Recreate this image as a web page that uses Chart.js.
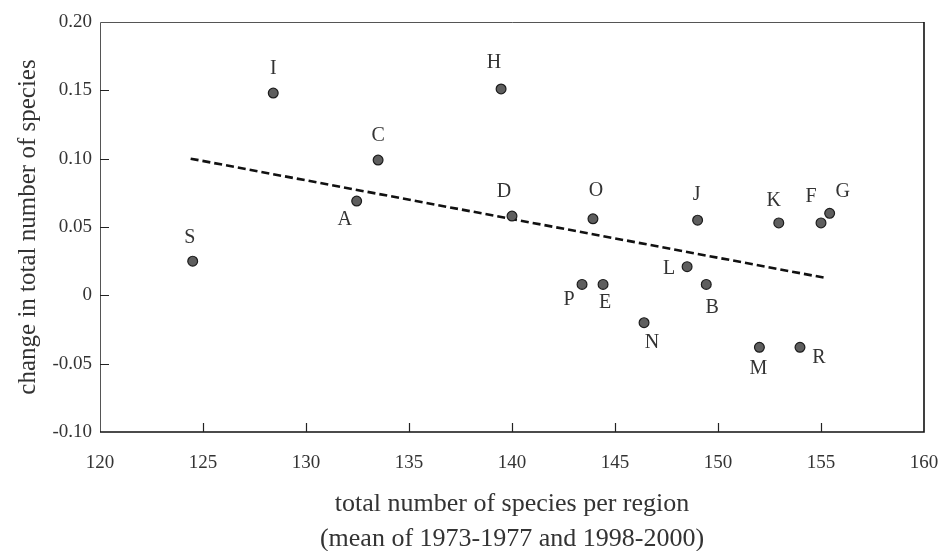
<!DOCTYPE html>
<html>
<head>
<meta charset="utf-8">
<script src="https://cdn.jsdelivr.net/npm/chart.js@4/dist/chart.umd.min.js"></script>
<style>
  html, body { margin: 0; padding: 0; background: #fff; }
  canvas { display: block; }
</style>
</head>
<body>
<canvas id="c" width="942" height="551"></canvas>
<script>
// Regions and their values
const regionNames = ['A','B','C','D','E','F','G','H','I','J','K','L','M','N','O','P','R','S'];
const totalSpecies = [132.46, 149.43, 133.50, 140.00, 144.42, 155.00, 155.42, 139.47, 128.41,
                      149.01, 152.95, 148.50, 152.01, 146.41, 143.93, 143.40, 153.98, 124.50];
const speciesChange = [0.069, 0.008, 0.099, 0.058, 0.008, 0.053, 0.060, 0.151, 0.148,
                       0.055, 0.053, 0.021, -0.038, -0.020, 0.056, 0.008, -0.038, 0.025];

// Regression line end points
const trendX = [124.4, 155.3];
const trendY = [0.100, 0.0125];

// Axis ticks
const xTickValues = [120, 125, 130, 135, 140, 145, 150, 155, 160];
const xTickLabels = ['120', '125', '130', '135', '140', '145', '150', '155', '160'];
const yTickValues = [-0.10, -0.05, 0, 0.05, 0.10, 0.15, 0.20];
const yTickLabels = ['-0.10', '-0.05', '0', '0.05', '0.10', '0.15', '0.20'];

// Where each region letter sits relative to its marker (px)
const labelOffsets = {
  A: [-12, 19], B: [6, 23], C: [0, -24], D: [-8, -24], E: [2, 18], F: [-10, -26],
  G: [13, -22], H: [-7, -26], I: [0, -24], J: [-1, -25], K: [-5, -22], L: [-18, 2],
  M: [-1, 21], N: [8, 20], O: [3, -28], P: [-13, 15], R: [19, 10], S: [-3, -23]
};

const SERIF = '"Liberation Serif", "DejaVu Serif", serif';
const TEXT = '#333';

const points = totalSpecies.map((x, i) => ({ x, y: speciesChange[i] }));
const trend = trendX.map((x, i) => ({ x, y: trendY[i] }));

// Region letters next to the markers
const pointLabels = {
  id: 'pointLabels',
  afterDatasetsDraw(chart) {
    const ctx = chart.ctx;
    const meta = chart.getDatasetMeta(0);
    ctx.save();
    ctx.font = '20px ' + SERIF;
    ctx.fillStyle = TEXT;
    ctx.textAlign = 'center';
    ctx.textBaseline = 'middle';
    meta.data.forEach((el, i) => {
      const name = regionNames[i];
      const off = labelOffsets[name] || [0, -22];
      ctx.fillText(name, el.x + off[0], el.y + off[1]);
    });
    ctx.restore();
  }
};

// Plot frame with inward tick marks
const frame = {
  id: 'frame',
  afterDraw(chart) {
    const { ctx, chartArea: a, scales } = chart;
    ctx.save();
    // top and left edges
    ctx.strokeStyle = '#555';
    ctx.lineWidth = 1;
    ctx.beginPath();
    ctx.moveTo(a.left + 0.5, a.bottom);
    ctx.lineTo(a.left + 0.5, a.top + 0.5);
    ctx.lineTo(a.right, a.top + 0.5);
    ctx.stroke();
    // right and bottom edges
    ctx.strokeStyle = '#111';
    ctx.lineWidth = 1.6;
    ctx.beginPath();
    ctx.moveTo(a.right, a.top);
    ctx.lineTo(a.right, a.bottom);
    ctx.lineTo(a.left, a.bottom);
    ctx.stroke();
    // tick marks
    ctx.strokeStyle = '#222';
    ctx.lineWidth = 1.2;
    ctx.beginPath();
    xTickValues.slice(1, -1).forEach(v => {
      const px = Math.round(scales.x.getPixelForValue(v)) + 0.5;
      ctx.moveTo(px, a.bottom);
      ctx.lineTo(px, a.bottom - 9);
    });
    yTickValues.slice(1, -1).forEach(v => {
      const py = Math.round(scales.y.getPixelForValue(v)) + 0.5;
      ctx.moveTo(a.left, py);
      ctx.lineTo(a.left + 9, py);
    });
    ctx.stroke();
    ctx.restore();
  }
};

new Chart(document.getElementById('c'), {
  type: 'scatter',
  data: {
    datasets: [
      {
        label: 'regions',
        data: points,
        pointRadius: 4.9,
        pointHoverRadius: 4.9,
        pointBackgroundColor: '#5e5e5e',
        pointBorderColor: '#1c1c1c',
        pointBorderWidth: 1.2,
        order: 0
      },
      {
        label: 'trend',
        type: 'line',
        data: trend,
        showLine: true,
        borderColor: '#111',
        borderWidth: 2.6,
        borderDash: [8, 4],
        pointRadius: 0,
        fill: false,
        order: 1
      }
    ]
  },
  options: {
    responsive: false,
    animation: false,
    events: [],
    layout: { padding: { top: 22, right: 18, bottom: 0, left: 0 } },
    plugins: {
      legend: { display: false },
      tooltip: { enabled: false }
    },
    scales: {
      x: {
        type: 'linear',
        min: 120,
        max: 160,
        afterBuildTicks: s => { s.ticks = xTickValues.map(v => ({ value: v })); },
        afterFit: s => { s.height = 119; s.paddingLeft = 0; s.paddingRight = 0; },
        grid: { display: false, drawTicks: false },
        border: { display: false },
        ticks: {
          padding: 20,
          color: TEXT,
          font: { family: SERIF, size: 19 },
          maxRotation: 0,
          callback: (v) => xTickLabels[xTickValues.indexOf(v)]
        },
        title: {
          display: true,
          text: ['total number of species per region', '(mean of 1973-1977 and 1998-2000)'],
          color: TEXT,
          font: { family: SERIF, size: 26, lineHeight: 1.35 },
          padding: { top: 0, bottom: -6 }
        }
      },
      y: {
        type: 'linear',
        min: -0.10,
        max: 0.20,
        afterBuildTicks: s => { s.ticks = yTickValues.map(v => ({ value: v })); },
        afterFit: s => { s.width = 100; s.paddingTop = 0; s.paddingBottom = 0; },
        grid: { display: false, drawTicks: false },
        border: { display: false },
        ticks: {
          padding: 8,
          color: TEXT,
          font: { family: SERIF, size: 19 },
          callback: (v) => {
            const i = yTickValues.findIndex(t => Math.abs(t - v) < 1e-9);
            return i >= 0 ? yTickLabels[i] : '';
          }
        },
        title: {
          display: true,
          text: 'change in total number of species',
          color: TEXT,
          font: { family: SERIF, size: 25, lineHeight: 1.2 },
          padding: { top: 13, bottom: 0 }
        }
      }
    }
  },
  plugins: [pointLabels, frame]
});
</script>
</body>
</html>
